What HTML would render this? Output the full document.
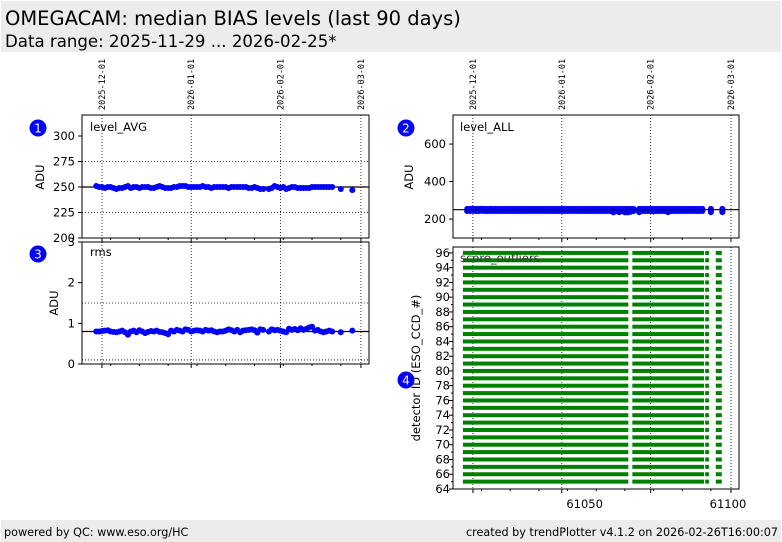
<!DOCTYPE html>
<html><head><meta charset="utf-8">
<style>
body{margin:0;width:782px;height:542px;background:#fff;font-family:"DejaVu Sans","Liberation Sans",sans-serif;overflow:hidden;position:relative}
.hdr{position:absolute;left:1px;top:1px;width:780px;height:51px;background:#ececec}
.t1{position:absolute;left:4px;top:6px;font-size:19.5px;color:#000}
.t2{position:absolute;left:4px;top:31px;font-size:16.6px;color:#000}
.ftr{position:absolute;left:1px;top:520px;width:780px;height:22px;background:#ececec;font-size:11.2px}
.fl{position:absolute;left:3px;top:6px}.fr{position:absolute;right:3px;top:6px}
svg{position:absolute;left:0;top:0}
</style></head><body>
<div class="hdr">
<div class="t1">OMEGACAM: median BIAS levels (last 90 days)</div>
<div class="t2">Data range: 2025-11-29 ... 2026-02-25*</div></div>
<svg id="c" width="782" height="542"></svg>
<div class="ftr"><span class="fl">powered by QC: www.eso.org/HC</span><span class="fr">created by trendPlotter v4.1.2 on 2026-02-26T16:00:07</span></div>
<script>
const days=[61008,61009,61010,61011,61012,61013,61014,61015,61016,61017,61018,61019,61020,61021,61022,61023,61024,61025,61026,61027,61028,61029,61030,61031,61032,61033,61034,61035,61036,61037,61038,61039,61040,61041,61042,61043,61044,61045,61046,61047,61048,61049,61050,61051,61052,61053,61054,61055,61056,61057,61058,61059,61060,61061,61062,61063,61064,61065,61066,61068,61069,61070,61071,61072,61073,61074,61075,61076,61077,61078,61079,61080,61081,61082,61083,61084,61085,61086,61087,61088,61089,61090,61093,61097];
const levelAvg=[251,250,250,249,250,250,249,248,249,249,250,251,249,250,250,249,250,250,250,249,249,250,251,250,249,249,249,250,250,251,251,251,250,250,250,250,250,251,250,250,249,250,250,250,250,250,249,250,250,250,250,250,250,249,249,250,249,248,248,248,249,251,250,249,250,248,249,250,250,249,249,249,249,249,250,250,250,250,250,250,250,250,248,247];
const rmsVals=[0.80,0.80,0.81,0.82,0.83,0.80,0.79,0.78,0.80,0.82,0.78,0.72,0.80,0.82,0.78,0.83,0.80,0.76,0.79,0.81,0.80,0.82,0.79,0.78,0.76,0.73,0.82,0.80,0.84,0.82,0.80,0.85,0.84,0.80,0.82,0.83,0.82,0.80,0.84,0.82,0.83,0.80,0.78,0.80,0.80,0.82,0.85,0.83,0.80,0.84,0.78,0.82,0.83,0.84,0.85,0.83,0.77,0.85,0.84,0.80,0.85,0.83,0.84,0.82,0.80,0.78,0.87,0.84,0.86,0.83,0.88,0.84,0.86,0.90,0.92,0.82,0.84,0.80,0.78,0.80,0.82,0.80,0.78,0.82];
const allLo=[232,232,233,232,232,233,232,232,232,232,232,232,232,232,232,232,232,232,232,232,232,232,232,232,232,232,232,232,232,232,232,232,232,232,232,232,232,232,232,232,232,232,232,232,232,232,232,232,232,232,232,225,232,226,232,225,225,228,232,226,232,232,232,232,230,232,232,232,232,226,232,232,232,232,232,232,232,232,232,232,232,232,226,226];
const allHi=[265,265,266,265,265,266,265,265,266,265,265,265,265,265,265,265,265,265,265,265,265,265,265,265,265,265,265,265,265,265,265,265,265,265,265,265,265,265,265,265,265,265,265,265,265,265,265,265,265,265,265,265,265,265,265,265,265,265,265,265,265,265,265,265,265,265,265,265,265,265,265,265,265,265,265,265,265,265,265,265,265,265,265,265];
const detectors=[65,66,67,68,69,70,71,72,73,74,75,76,77,78,79,80,81,82,83,84,85,86,87,88,89,90,91,92,93,94,95,96];
const segStart=[61006.5,61065.6,61091.0,61094.7];
const segEnd=[61064.2,61090.6,61092.3,61096.8];
const dateLabels=["2025-12-01","2026-01-01","2026-02-01","2026-03-01"];
const dateMjd=[61010,61041,61072,61100];
const avgTicks=[200,225,250,275,300];
const allTicks=[200,400,600];
const rmsTicks=[0,1,2,3];
const detTicks=[64,66,68,70,72,74,76,78,80,82,84,86,88,90,92,94,96];
const mjdTicks=[61050,61100];

const S=document.getElementById('c');const NS='http://www.w3.org/2000/svg';
function el(t,a,p){const e=document.createElementNS(NS,t);for(const k in a)e.setAttribute(k,a[k]);(p||S).appendChild(e);return e;}
function txt(x,y,s,a){const e=el('text',Object.assign({x:x,y:y,'font-size':11.5,fill:'#000','font-family':'DejaVu Sans, Liberation Sans, sans-serif'},a||{}));e.textContent=s;return e;}
const X0=61003.05,X1=61102.8;
function mk(l,r,t,b,y0,y1){return {l,r,t,b,x:v=>l+(v-X0)/(X1-X0)*(r-l),y:v=>b-(v-y0)/(y1-y0)*(b-t)};}
const P1=mk(82,369,115,238,200,320.6),P3=mk(82,369,242,364,0,3),P2=mk(453,739,115,238,99,755),P4=mk(453,739,247,489,64,96.8);
function frame(P,name){const g=el('g',{});
el('rect',{x:P.l,y:P.t,width:P.r-P.l,height:P.b-P.t,fill:'#fff',stroke:'#000','stroke-width':1},g);return g;}
function vgrid(P,g,vals){vals.forEach(v=>{const x=P.x(v);el('line',{x1:x,x2:x,y1:P.t,y2:P.b,stroke:'#000','stroke-dasharray':'1,2','stroke-width':0.8},g);el('line',{x1:x,x2:x,y1:P.b,y2:P.b+4,stroke:'#000'},g);});
 for(let d=61003;d<61104;d+=10){const x=P.x(d);if(x>P.l&&x<P.r)el('line',{x1:x,x2:x,y1:P.b,y2:P.b+2,stroke:'#000'},g);}}
function yticks(P,g,vals){vals.forEach(v=>{const y=P.y(v);el('line',{x1:P.l-4,x2:P.l,y1:y,y2:y,stroke:'#000'},g);txt(P.l-7,y+4,String(v),{'text-anchor':'end'});});}
function hline(P,g,v,dash){const y=P.y(v);el('line',{x1:P.l,x2:P.r,y1:y,y2:y,stroke:'#000','stroke-width':dash?0.8:1.2,'stroke-dasharray':dash?'1,2':'none'},g);}
function dateTop(P,g){dateLabels.forEach((s,i)=>{const x=P.x(dateMjd[i]);const t=txt(x+3,P.t-5,s,{'font-size':8.5,'font-family':'DejaVu Sans Mono, Liberation Mono, monospace',transform:'rotate(-90 '+(x+3)+' '+(P.t-5)+')'});});}
function badge(x,y,n){const g=el('g',{});el('circle',{cx:x,cy:y,r:8.5,fill:'#0000ff'},g);const t=txt(x,y+4.5,String(n),{'text-anchor':'middle',fill:'#fff','font-size':12});g.appendChild(t);}
function ylab(x,y,s){const t=txt(x,y,s,{'text-anchor':'middle',transform:'rotate(-90 '+x+' '+y+')'});}

// panel 1
let g=frame(P1,'panel-level-avg');vgrid(P1,g,dateMjd);hline(P1,g,275,1);hline(P1,g,225,1);hline(P1,g,250,0);yticks(P1,g,avgTicks);dateTop(P1,g);
days.forEach((d,i)=>{const c=el('circle',{cx:P1.x(d),cy:P1.y(levelAvg[i]),r:3,fill:'#0000ff'},g);});
txt(90,131,'level_AVG');ylab(44,177,'ADU');badge(38,128,1);
// panel 3
g=frame(P3,'panel-rms');vgrid(P3,g,dateMjd);hline(P3,g,1.5,1);hline(P3,g,0.1,1);hline(P3,g,0.8,0);yticks(P3,g,rmsTicks);
days.forEach((d,i)=>{const c=el('circle',{cx:P3.x(d),cy:P3.y(rmsVals[i]),r:3,fill:'#0000ff'},g);});
txt(90,256,'rms');ylab(58,303,'ADU');badge(38,254,3);
// panel 2
g=frame(P2,'panel-level-all');vgrid(P2,g,dateMjd);yticks(P2,g,allTicks);dateTop(P2,g);
days.forEach((d,i)=>{const x=P2.x(d);const r=el('rect',{x:x-3,y:P2.y(allHi[i])-1,width:6,height:P2.y(allLo[i])-P2.y(allHi[i])+2,rx:3,fill:'#0000ff'},g);});
hline(P2,g,250,0);txt(460,131,'level_ALL');ylab(413,177,'ADU');badge(406,128,2);
// panel 4
g=frame(P4,'panel-score-outliers');vgrid(P4,g,dateMjd);
detectors.forEach(det=>{segStart.forEach((s,j)=>{const r=el('rect',{x:P4.x(s),y:P4.y(det+0.27),width:P4.x(segEnd[j])-P4.x(s),height:P4.y(det-0.27)-P4.y(det+0.27),fill:'#008000'},g);});});
detTicks.forEach(v=>{const y=P4.y(v);el('line',{x1:P4.l-4,x2:P4.l,y1:y,y2:y,stroke:'#000'},g);txt(P4.l-3,y+4,String(v),{'text-anchor':'end'});if(v<96){const y2=P4.y(v+1);el('line',{x1:P4.l-2,x2:P4.l,y1:y2,y2:y2,stroke:'#000'},g);}});
mjdTicks.forEach(v=>{txt(P4.x(v)-3,508,String(v),{'text-anchor':'middle'});});
txt(460,262,'score_outliers',{fill:'#333'});ylab(420,368,'detector ID (ESO_CCD_#)');badge(406,380,4);
</script></body></html>
